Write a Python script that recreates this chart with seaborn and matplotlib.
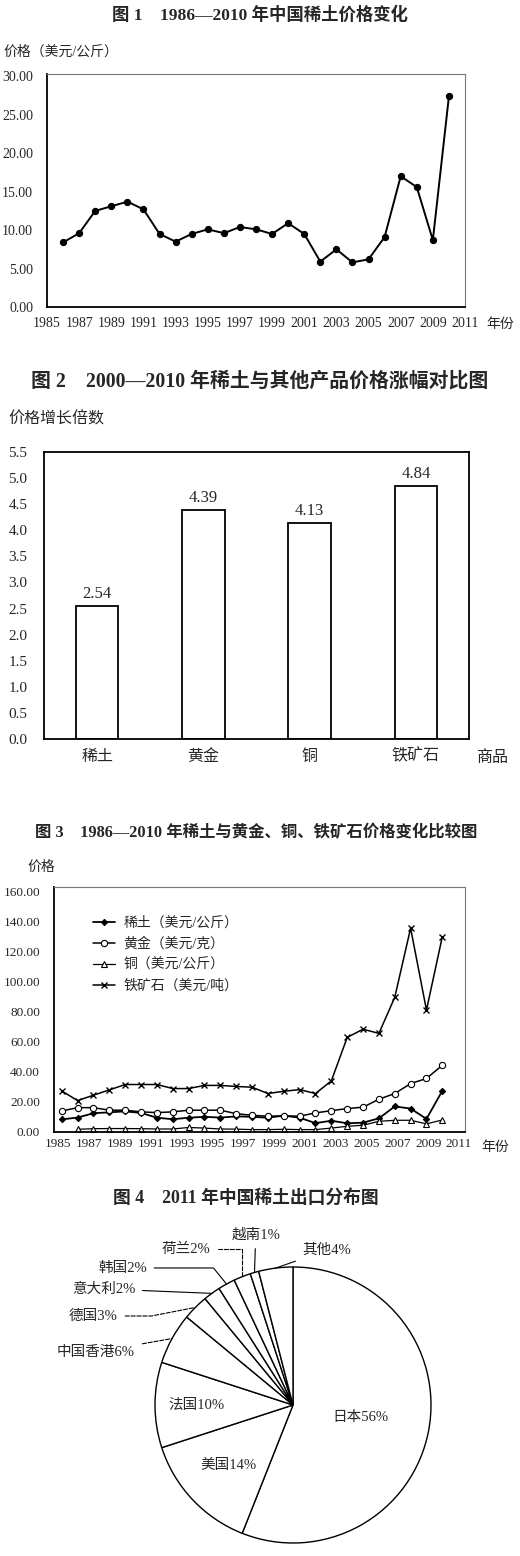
import numpy as np
import seaborn as sns
import matplotlib.pyplot as plt

W, H = 520, 1556

# 图1 / 图3 数据（1986—2010）
years = list(range(1986, 2011))
rare_earth = [8.4, 9.6, 12.5, 13.1, 13.7, 12.7, 9.5, 8.5, 9.5, 10.1, 9.6, 10.4, 10.1,
              9.5, 10.9, 9.5, 5.9, 7.5, 5.8, 6.2, 9.1, 17.0, 15.6, 8.7, 27.4]
gold = [14.0, 16.2, 16.2, 14.5, 14.5, 13.4, 12.9, 13.4, 14.5, 14.5, 14.5, 12.2, 11.1,
        10.5, 10.7, 10.5, 12.7, 14.2, 15.6, 16.5, 21.8, 25.6, 32.2, 35.6, 44.4]
copper_years = list(range(1987, 2011))
copper = [1.8, 2.2, 2.3, 2.3, 2.2, 2.0, 2.0, 3.0, 2.6, 2.0, 1.9, 1.6, 1.6, 1.8, 1.6,
          1.6, 2.6, 3.8, 4.5, 7.1, 7.8, 7.8, 5.4, 8.0]
iron_ore = [27.3, 20.9, 24.5, 28.0, 31.6, 31.6, 31.6, 28.9, 28.9, 31.0, 31.0, 30.3, 29.8,
            25.6, 27.1, 28.2, 25.6, 34.0, 62.9, 68.4, 65.6, 89.6, 135.6, 81.1, 130.0]
tick_years = list(range(1985, 2012, 2))

# 图2 数据
products = ['稀土', '黄金', '铜', '铁矿石']
growth = [2.54, 4.39, 4.13, 4.84]

# 图4 数据
regions = ['日本', '美国', '法国', '中国香港', '德国', '意大利', '韩国', '荷兰', '越南', '其他']
shares = [56, 14, 10, 6, 3, 2, 2, 2, 1, 4]

sns.set_style('white')
plt.rcParams['font.family'] = ['Liberation Serif', 'Noto Sans CJK SC']
plt.rcParams['axes.unicode_minus'] = False

fig = plt.figure(figsize=(W / 100, H / 100), dpi=100)


def add_ax(x0, y0, x1, y1):
    return fig.add_axes([x0 / W, 1 - y1 / H, (x1 - x0) / W, (y1 - y0) / H])


def put_text(x, y, s, size, **kw):
    fig.text(x / W, 1 - y / H, s, fontsize=size, va='center', **kw)


def frame(ax, light=True):
    for side in ['left', 'bottom']:
        ax.spines[side].set_color('black')
        ax.spines[side].set_linewidth(1.3)
    for side in ['top', 'right']:
        ax.spines[side].set_color('#777777' if light else 'black')
        ax.spines[side].set_linewidth(0.8 if light else 1.3)


# ---------------- 图1 ----------------
put_text(260, 15, '图 1    1986—2010 年中国稀土价格变化', 12.5, ha='center', fontweight='bold')
put_text(3, 52, '价格（美元/公斤）', 10)
ax1 = add_ax(47, 74, 465, 307)
sns.lineplot(x=years, y=rare_earth, ax=ax1, color='black', linewidth=1.4,
             marker='o', markersize=4.5, markeredgecolor='black')
ax1.set_xlim(1985, 2011)
ax1.set_ylim(0, 30.3)
ax1.set_xticks(tick_years)
ax1.set_yticks(np.arange(0, 31, 5))
ax1.yaxis.set_major_formatter('{x:.2f}')
ax1.tick_params(axis='x', direction='in', length=3, width=0.8, pad=7, labelsize=10)
ax1.tick_params(axis='y', length=0, pad=10, labelsize=10)
ax1.set_xlabel('')
ax1.set_ylabel('')
frame(ax1)
put_text(500, 324, '年份', 10, ha='center')

# ---------------- 图2 ----------------
put_text(260, 382, '图 2    2000—2010 年稀土与其他产品价格涨幅对比图', 14.3, ha='center', fontweight='bold')
put_text(8, 420, '价格增长倍数', 11.5)
ax2 = add_ax(44, 452, 469, 739)
sns.barplot(x=products, y=growth, ax=ax2, color='white', saturation=1,
            edgecolor='black', linewidth=1.3, width=0.4)
ax2.bar_label(ax2.containers[0], fmt='%.2f', padding=3, fontsize=12)
ax2.set_xlim(-0.5, 3.5)
ax2.set_ylim(0, 5.5)
ax2.set_yticks(np.arange(0, 5.51, 0.5))
ax2.yaxis.set_major_formatter('{x:.1f}')
ax2.set_xticks([0.5, 1.5, 2.5], minor=True)
ax2.tick_params(axis='x', which='major', length=0, pad=7, labelsize=11.5)
ax2.tick_params(axis='x', which='minor', direction='in', length=3, width=0.8)
ax2.tick_params(axis='y', length=0, pad=12, labelsize=11)
ax2.set_xlabel('')
ax2.set_ylabel('')
frame(ax2, light=False)
put_text(492, 758, '商品', 11.5, ha='center')

# ---------------- 图3 ----------------
put_text(256, 833, '图 3    1986—2010 年稀土与黄金、铜、铁矿石价格变化比较图', 11.8, ha='center', fontweight='bold')
put_text(27, 867, '价格', 10)
ax3 = add_ax(54, 887, 465, 1132)
sns.lineplot(x=years, y=rare_earth, ax=ax3, color='black', linewidth=1.3,
             marker='D', markersize=3.2, markeredgecolor='black', label='稀土（美元/公斤）')
sns.lineplot(x=years, y=gold, ax=ax3, color='black', linewidth=1.1,
             marker='o', markersize=4.5, markerfacecolor='white', markeredgecolor='black',
             markeredgewidth=0.8, label='黄金（美元/克）')
sns.lineplot(x=copper_years, y=copper, ax=ax3, color='black', linewidth=0.9,
             marker='^', markersize=4.5, markerfacecolor='white', markeredgecolor='black',
             markeredgewidth=0.8, label='铜（美元/公斤）')
sns.lineplot(x=years, y=iron_ore, ax=ax3, color='black', linewidth=1.1,
             marker='x', markersize=4.5, markeredgecolor='black', markeredgewidth=1.0,
             label='铁矿石（美元/吨）')
ax3.set_xlim(1985.51, 2011.43)
ax3.set_ylim(0, 163)
ax3.set_xticks(np.linspace(1985.77, 2011.05, len(tick_years)), labels=tick_years)
ax3.set_yticks(np.arange(0, 161, 20))
ax3.yaxis.set_major_formatter('{x:.2f}')
ax3.tick_params(axis='x', direction='in', length=0, pad=4, labelsize=9.5)
ax3.tick_params(axis='y', length=0, pad=10, labelsize=9.5)
ax3.set_xlabel('')
ax3.set_ylabel('')
frame(ax3)
ax3.legend(loc='upper left', bbox_to_anchor=(0.095, 0.88), frameon=False, fontsize=10,
           borderaxespad=0, borderpad=0, handlelength=1.6, handletextpad=0.6,
           labelspacing=0.55)
put_text(495, 1147, '年份', 10, ha='center')

# ---------------- 图4 ----------------
put_text(246, 1198, '图 4    2011 年中国稀土出口分布图', 12.8, ha='center', fontweight='bold')
ax4 = add_ax(0, 1220, 520, 1556)
wedges, _ = ax4.pie(shares, startangle=90, counterclock=False, colors=['white'] * len(shares),
                    wedgeprops=dict(edgecolor='black', linewidth=1.0))
ax4.set_xlim(-293 / 138, 227 / 138)
ax4.set_ylim(-151 / 138, 185 / 138)
ax4.set_aspect('equal')

mid = {}
for name, w in zip(regions, wedges):
    ang = np.deg2rad((w.theta1 + w.theta2) / 2)
    mid[name] = (np.cos(ang), np.sin(ang))

# 扇区内标签（半径比例）
inside = {'日本': 0.5, '美国': 0.64, '法国': 0.7}
for name, r in inside.items():
    cx, cy = mid[name]
    pct = shares[regions.index(name)]
    ax4.text(cx * r, cy * r, f'{name}{pct}%', ha='center', va='center', fontsize=10.5)

# 扇区外标签：文字位置、对齐、线型、连接方式
outside = {
    '其他': ((0.07, 1.123), 'left', '-', 'arc3'),
    '越南': ((-0.27, 1.235), 'center', '-', 'arc3'),
    '荷兰': ((-0.60, 1.130), 'right', '--', 'angle,angleA=0,angleB=90,rad=0'),
    '韩国': ((-1.06, 0.993), 'right', '-', 'angle,angleA=0,angleB=129,rad=0'),
    '意大利': ((-1.145, 0.841), 'right', '-', 'arc3'),
    '德国': ((-1.27, 0.645), 'right', '--', 'angle,angleA=0,angleB=11,rad=0'),
    '中国香港': ((-1.145, 0.384), 'right', '--', 'arc3'),
}
for name, (pos, ha, ls, conn) in outside.items():
    pct = shares[regions.index(name)]
    ax4.annotate(f'{name}{pct}%', xy=mid[name], xytext=pos, textcoords='data',
                 ha=ha, va='center', fontsize=10.5, annotation_clip=False,
                 arrowprops=dict(arrowstyle='-', color='black', lw=0.8, linestyle=ls,
                                 connectionstyle=conn, shrinkA=3, shrinkB=0))

fig.savefig('out.png', dpi=100, facecolor='white')
